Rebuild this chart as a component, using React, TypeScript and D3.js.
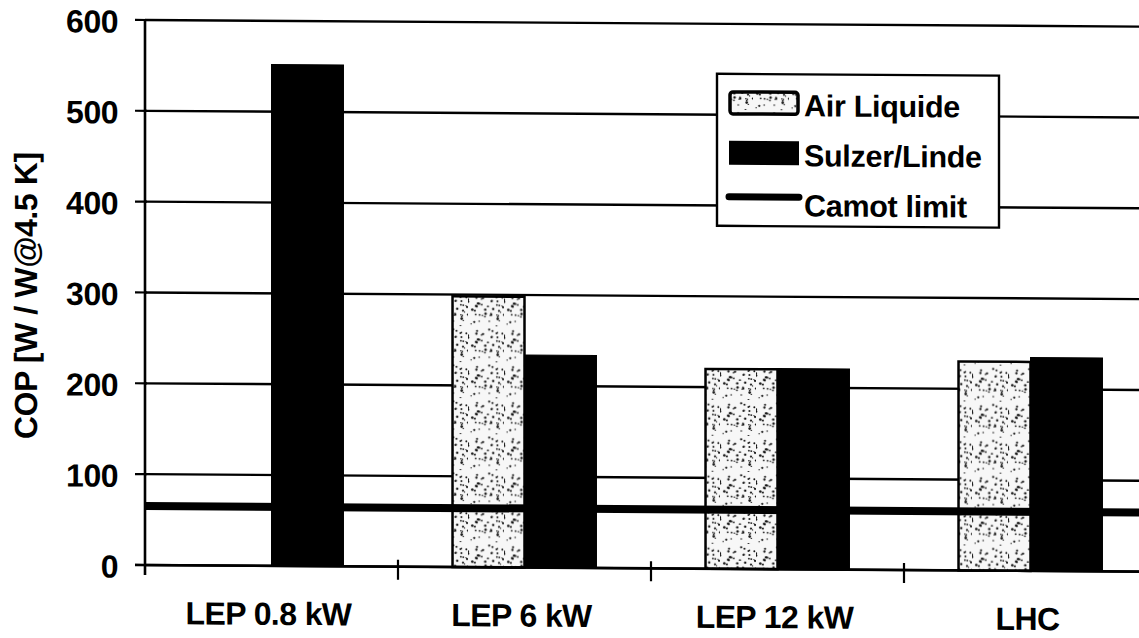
import React from "react";
import * as d3 from "d3";

const categories = ["LEP 0.8 kW", "LEP 6 kW", "LEP 12 kW", "LHC"];
const seriesNames = ["Air Liquide", "Sulzer/Linde"];
const airLiquide: (number | null)[] = [null, 298, 220, 230];
const sulzerLinde: number[] = [552, 234, 221, 235];
const carnotLimit: number[] = [65, 65, 65, 65];
const yTicks = [0, 100, 200, 300, 400, 500, 600];
const yTitle = "COP [W / W@4.5 K]";
const legendLabels = ["Air Liquide", "Sulzer/Linde", "Camot limit"];

const W = 1139;
const H = 638;
const M = { left: 145, top: 20, bottom: 73, rightEdge: 1157 };
const FONT = "'Liberation Sans', Arial, Helvetica, sans-serif";

// deterministic stipple texture for the Air Liquide fill
const stipple = (size: number, count: number) => {
  const pts: { x: number; y: number; r: number }[] = [];
  let s = 12345;
  const next = () => {
    s = (s * 1103515245 + 12345) % 2147483648;
    return s / 2147483648;
  };
  for (let i = 0; i < count; i++) {
    pts.push({ x: next() * size, y: next() * size, r: 0.6 + next() * 0.7 });
  }
  return pts;
};

export default function App() {
  const x = d3
    .scaleBand<string>()
    .domain(categories)
    .range([M.left, M.rightEdge])
    .paddingInner(0.431)
    .paddingOuter(0.2155);
  const x1 = d3.scaleBand<string>().domain(seriesNames).range([0, x.bandwidth()]);
  const y = d3.scaleLinear().domain([0, 600]).range([H - M.bottom, M.top]);
  const y0 = y(0);
  const step = x.step();
  const boundaries = categories.map((c) => (x(c) as number) - x.paddingOuter() * step);
  const dots = stipple(36, 50);

  const skew = `translate(${M.left},${y0}) skewY(0.38) translate(${-M.left},${-y0})`;

  const carnotLine = d3
    .line<number>()
    .x((_, i) => (i === 0 ? x.range()[0] : x.range()[1]))
    .y((d) => y(d));

  const legendX = 717;
  const legendY = 70;

  return (
    <svg
      width={W}
      height={H}
      style={{ position: "fixed", left: 0, top: 0, background: "#fff" }}
      fontFamily={FONT}
    >
      <defs>
        <pattern id="stip" width={36} height={36} patternUnits="userSpaceOnUse">
          <rect width={36} height={36} fill="#f7f7f7" />
          {dots.map((d, i) => (
            <circle key={i} cx={d.x} cy={d.y} r={d.r} fill="#111" />
          ))}
        </pattern>
      </defs>
      <rect width={W} height={H} fill="#fff" />
      <g transform={skew}>
        {/* gridlines */}
        {yTicks.map((t) => (
          <line
            key={"g" + t}
            x1={M.left}
            x2={M.rightEdge}
            y1={y(t)}
            y2={y(t)}
            stroke="#000"
            strokeWidth={2.4}
          />
        ))}
        {/* y ticks + labels */}
        {yTicks.map((t) => (
          <g key={"t" + t}>
            <line x1={M.left - 10} x2={M.left + 2} y1={y(t)} y2={y(t)} stroke="#000" strokeWidth={2.2} />
            <text
              x={M.left - 27}
              y={y(t)}
              dy="0.4em"
              textAnchor="end"
              fontSize={32}
              fontWeight="bold"
              letterSpacing={-0.5}
            >
              {t}
            </text>
          </g>
        ))}
        {/* bars */}
        {categories.map((c, i) => {
          const bx = x(c) as number;
          const al = airLiquide[i];
          const sl = sulzerLinde[i];
          return (
            <g key={c}>
              {al !== null && (
                <rect
                  x={bx + (x1("Air Liquide") as number)}
                  y={y(al)}
                  width={x1.bandwidth()}
                  height={y0 - y(al)}
                  fill="url(#stip)"
                  stroke="#000"
                  strokeWidth={2.5}
                />
              )}
              <rect
                x={bx + (x1("Sulzer/Linde") as number)}
                y={y(sl)}
                width={x1.bandwidth()}
                height={y0 - y(sl)}
                fill="#000"
                stroke="#000"
                strokeWidth={1}
              />
            </g>
          );
        })}
        {/* carnot limit */}
        <path
          d={carnotLine([carnotLimit[0], carnotLimit[carnotLimit.length - 1]]) || ""}
          stroke="#000"
          strokeWidth={8}
          fill="none"
        />
        {/* axes */}
        <line x1={M.left} x2={M.left} y1={y(600) - 1} y2={y0 + 10} stroke="#000" strokeWidth={2.6} />
        <line x1={M.left - 10} x2={M.rightEdge} y1={y0} y2={y0} stroke="#000" strokeWidth={2.6} />
        {boundaries.slice(1).map((bx, i) => (
          <line key={"xt" + i} x1={bx} x2={bx} y1={y0 - 7} y2={y0 + 13} stroke="#000" strokeWidth={2.2} />
        ))}
        {/* x labels */}
        {categories.map((c) => (
          <text
            key={"xl" + c}
            x={(x(c) as number) + x.bandwidth() / 2 - 3}
            y={y0 + 59}
            textAnchor="middle"
            fontSize={32}
            fontWeight="bold"
            letterSpacing={-0.6}
          >
            {c}
          </text>
        ))}
        {/* y title */}
        <text
          transform={`translate(37,${(y(600) + y0) / 2 + 4}) rotate(-90)`}
          textAnchor="middle"
          fontSize={32}
          fontWeight="bold"
          letterSpacing={-0.4}
        >
          {yTitle}
        </text>
        {/* legend */}
        <g transform={`translate(${legendX},${legendY})`}>
          <rect x={0} y={0} width={282} height={152} fill="#fff" stroke="#000" strokeWidth={2.4} />
          <rect x={13} y={18} width={68} height={22} rx={3} fill="url(#stip)" stroke="#000" strokeWidth={3.5} />
          <rect x={12} y={67} width={70} height={24} fill="#000" />
          <line x1={12} x2={82} y1={123} y2={123} stroke="#000" strokeWidth={7} strokeLinecap="round" />
          {legendLabels.map((l, i) => (
            <text key={l} x={87} y={42 + i * 50} fontSize={30.5} fontWeight="bold" letterSpacing={-0.3}>
              {l}
            </text>
          ))}
        </g>
      </g>
    </svg>
  );
}
